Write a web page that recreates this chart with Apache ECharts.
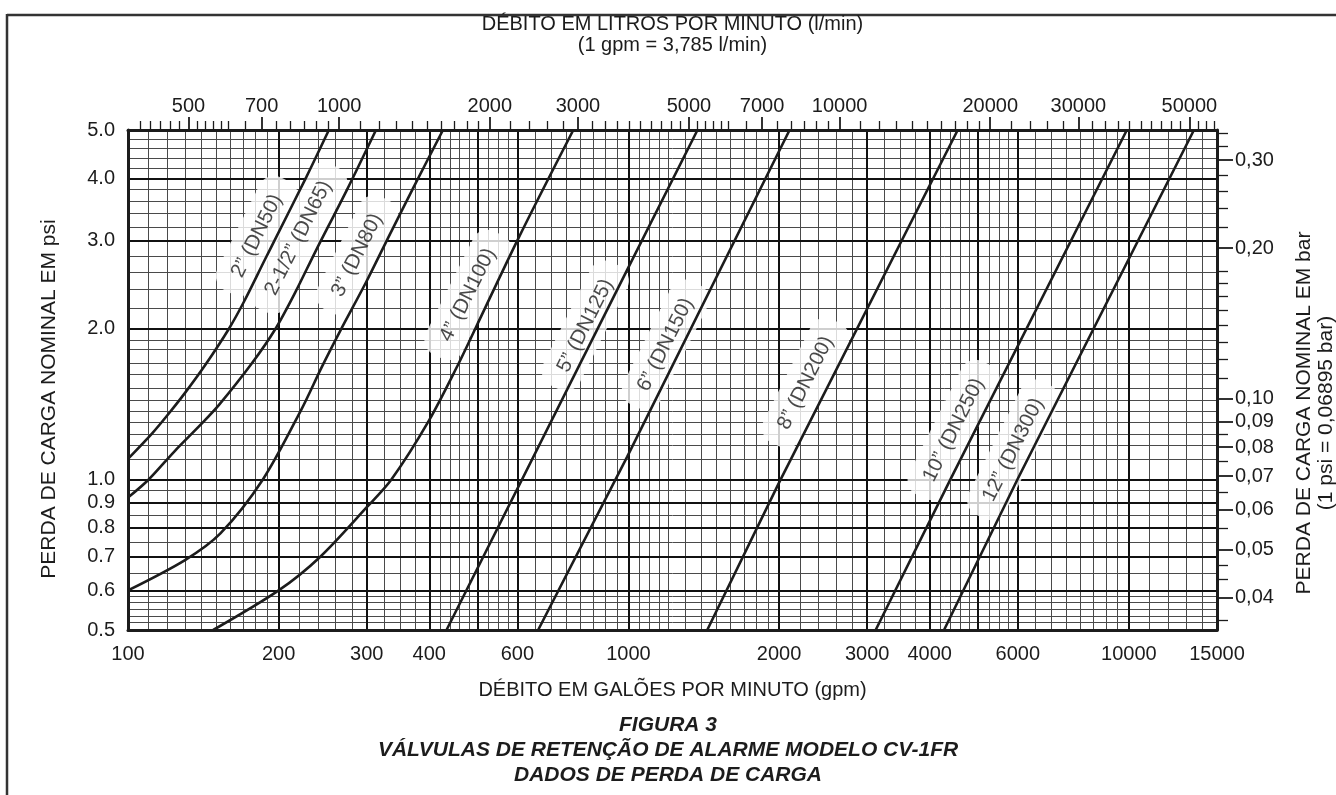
<!DOCTYPE html>
<html>
<head>
<meta charset="utf-8">
<script src="https://cdn.jsdelivr.net/npm/echarts@6/dist/echarts.min.js"></script>
<style>
html,body{margin:0;padding:0;background:#fff;}
#chart{width:1336px;height:795px;}
</style>
</head>
<body>
<div id="chart"></div>
<script>
// ---------------- data ----------------
const gpmTickLabels = [100, 200, 300, 400, 600, 1000, 2000, 3000, 4000, 6000, 10000, 15000];
const psiTickLabels = [0.5, 0.6, 0.7, 0.8, 0.9, 1.0, 2.0, 3.0, 4.0, 5.0];
const barTickLabels = [0.04, 0.05, 0.06, 0.07, 0.08, 0.09, 0.10, 0.20, 0.30];
const barMinorTicks = [0.036, 0.0435, 0.0465, 0.055, 0.065, 0.075, 0.085, 0.11, 0.12, 0.13, 0.14, 0.15, 0.16, 0.17, 0.18, 0.22, 0.24, 0.26, 0.28, 0.32, 0.34];
const lpmTickLabels = [500, 700, 1000, 2000, 3000, 5000, 7000, 10000, 20000, 30000, 50000];
const lpmMinorTicks = [400, 420, 440, 460, 480, 520, 540, 560, 580, 600, 650, 750, 800, 850, 900, 950,
  1100, 1200, 1300, 1400, 1500, 1600, 1700, 1800, 1900, 2200, 2400, 2600, 2800, 3200, 3400, 3600, 3800, 4000,
  4200, 4400, 4600, 4800, 5200, 5400, 5600, 5800, 6000, 6500, 7500, 8000, 8500, 9000, 9500,
  11000, 12000, 13000, 14000, 15000, 16000, 17000, 18000, 19000, 22000, 24000, 26000, 28000,
  32000, 34000, 36000, 38000, 40000, 42000, 44000, 46000, 48000, 52000, 54000, 56000];
const gpmMajorGrid = [200, 300, 400, 500, 600, 1000, 2000, 3000, 4000, 5000, 6000, 10000];
const gpmMinorGrid = [110, 120, 130, 140, 150, 160, 170, 180, 190, 220, 240, 260, 280, 325, 350, 375,
  420, 440, 460, 480, 525, 550, 575, 650, 700, 750, 800, 850, 900, 950,
  1050, 1100, 1150, 1200, 1300, 1400, 1500, 1600, 1700, 1800, 1900, 2200, 2400, 2600, 2800,
  3250, 3500, 3750, 4200, 4400, 4600, 4800, 5250, 5500, 5750,
  6500, 7000, 7500, 8000, 8500, 9000, 9500, 11000, 12000, 13000, 14000];
const psiMajorGrid = [0.6, 0.7, 0.8, 0.9, 1.0, 2.0, 3.0, 4.0];
const psiMinorGrid = [0.517, 0.533, 0.55, 0.567, 0.583, 0.65, 0.75, 0.85, 0.95,
  1.1, 1.17, 1.23, 1.3, 1.37, 1.44, 1.52, 1.62, 1.71, 1.82, 1.9,
  2.2, 2.4, 2.6, 2.8, 3.2, 3.4, 3.6, 3.8, 4.2, 4.4, 4.6, 4.8];

const GPM_TO_LPM = 3.785;
const PSI_TO_BAR = 0.06895;
const gpmMin = 100, gpmMax = 15000;
const psiMin = 0.5, psiMax = 5.0;

// [gpm, psi]
const curve2in   = [[100, 1.10], [112, 1.24], [121, 1.36], [130, 1.49], [143, 1.70], [159, 2.0], [171, 2.28], [188, 2.76], [198, 3.06], [227, 4.02], [252, 5.0]];
const curve25in  = [[100, 0.92], [110, 1.00], [124, 1.14], [140, 1.29], [152, 1.41], [177, 1.71], [197, 2.0], [216, 2.37], [237, 2.86], [274, 3.8], [313, 5.0]];
const curve3in   = [[100, 0.60], [130, 0.69], [153, 0.78], [186, 1.0], [222, 1.38], [244, 1.68], [266, 1.99], [299, 2.48], [334, 3.1], [372, 3.84], [426, 5.0]];
const curve4in   = [[148, 0.5], [200, 0.60], [242, 0.70], [300, 0.88], [336, 1.0], [399, 1.31], [457, 1.70], [494, 2.0], [604, 3.05], [776, 5.0]];
const curve5in   = [[433, 0.5], [993, 2.62], [1374, 5.0]];
const curve6in   = [[660, 0.5], [994, 1.11], [2099, 5.0]];
const curve8in   = [[1437, 0.5], [2009, 0.995], [4550, 5.0]];
const curve10in  = [[3119, 0.5], [4420, 1.01], [9908, 5.0]];
const curve12in  = [[4272, 0.5], [5988, 1.0], [13490, 5.0]];

const curveNames = ['2” (DN50)', '2-1/2” (DN65)', '3” (DN80)', '4” (DN100)', '5” (DN125)', '6” (DN150)', '8” (DN200)', '10” (DN250)', '12” (DN300)'];
const curveData = [curve2in, curve25in, curve3in, curve4in, curve5in, curve6in, curve8in, curve10in, curve12in];
// label anchor points (gpm, psi) where each size label sits
const labelAnchors = [[181, 3.07], [219, 3.04], [287, 2.81], [478, 2.34], [820, 2.03], [1186, 1.86], [2260, 1.56], [4467, 1.256], [5875, 1.146]];

const topTitle = 'DÉBITO EM LITROS POR MINUTO (l/min)\n(1 gpm = 3,785 l/min)';
const bottomTitle = 'DÉBITO EM GALÕES POR MINUTO (gpm)';
const leftTitle = 'PERDA DE CARGA NOMINAL EM psi';
const rightTitle = 'PERDA DE CARGA NOMINAL EM bar\n(1 psi = 0,06895 bar)';
const caption = 'FIGURA 3\nVÁLVULAS DE RETENÇÃO DE ALARME MODELO CV-1FR\nDADOS DE PERDA DE CARGA';

// ---------------- chart ----------------
const FONT = 'Liberation Sans';
const INK = '#1c1c1c';
const chart = echarts.init(document.getElementById('chart'), null, {renderer: 'canvas'});

const labelStyle = {fontSize: 20, color: INK, fontFamily: FONT};
const nameStyle = {fontSize: 20, color: INK, fontFamily: FONT, lineHeight: 21};
const sideNameStyle = {fontSize: 21, color: INK, fontFamily: FONT, lineHeight: 22};
const frameLine = {color: INK, width: 3};

const series = curveData.map((d, i) => ({
  type: 'line', name: curveNames[i], data: d,
  xAxisIndex: 0, yAxisIndex: 0,
  showSymbol: false, symbol: 'none',
  smooth: d.length > 3 ? 0.3 : false,
  lineStyle: {color: INK, width: 2.6},
  z: 5, silent: true, animation: false
}));
series.push({
  type: 'scatter', name: 'labels', xAxisIndex: 0, yAxisIndex: 0,
  symbolSize: 0, z: 4, silent: true, animation: false,
  data: labelAnchors.map((p, i) => ({name: curveNames[i], value: p})),
  label: {
    show: true, position: 'inside', formatter: '{b}', rotate: 63.4,
    fontSize: 20.5, color: INK, fontFamily: FONT,
    backgroundColor: '#fff', padding: [10, 18], borderRadius: 16
  }
});

const option = {
  animation: false,
  backgroundColor: '#fff',
  title: {
    text: caption, left: 'center', top: 708,
    textStyle: {fontSize: 21, fontWeight: 'bold', fontStyle: 'italic', color: INK, fontFamily: FONT, lineHeight: 25}
  },
  graphic: [
    {type: 'line', shape: {x1: 7, y1: 15, x2: 1336, y2: 15}, style: {stroke: '#333', lineWidth: 2.5}},
    {type: 'line', shape: {x1: 7, y1: 14, x2: 7, y2: 795}, style: {stroke: '#333', lineWidth: 2.5}}
  ],
  grid: {left: 128, top: 130, width: 1089, height: 500, containLabel: false, outerBoundsMode: 'none'},
  xAxis: [
    {
      type: 'log', logBase: 10, min: gpmMin, max: gpmMax, position: 'bottom', z: 2,
      axisLine: {show: true, onZero: false, lineStyle: frameLine},
      axisTick: {show: false, customValues: gpmMajorGrid},
      axisLabel: {customValues: gpmTickLabels, formatter: v => String(Math.round(v)), margin: 14, ...labelStyle},
      splitLine: {show: true, lineStyle: {color: '#111', width: 2}},
      name: bottomTitle, nameLocation: 'middle', nameGap: 50, nameTextStyle: nameStyle
    },
    {
      type: 'log', logBase: 10, min: gpmMin * GPM_TO_LPM, max: gpmMax * GPM_TO_LPM, position: 'top', z: 2,
      axisLine: {show: true, onZero: false, lineStyle: frameLine},
      axisTick: {show: true, customValues: lpmMinorTicks, length: 9, lineStyle: {color: INK, width: 1.3}},
      axisLabel: {customValues: lpmTickLabels, formatter: v => String(Math.round(v)), margin: 14, ...labelStyle},
      splitLine: {show: false},
      name: topTitle, nameLocation: 'middle', nameGap: 74, nameTextStyle: nameStyle
    },
    {
      type: 'log', logBase: 10, min: gpmMin, max: gpmMax, position: 'bottom', z: 0,
      axisLine: {show: false}, axisTick: {show: false, customValues: gpmMinorGrid},
      axisLabel: {show: false},
      splitLine: {show: true, lineStyle: {color: '#4a4a4a', width: 1}}
    },
    {
      type: 'log', logBase: 10, min: gpmMin * GPM_TO_LPM, max: gpmMax * GPM_TO_LPM, position: 'top', z: 2,
      axisLine: {show: false},
      axisTick: {show: true, customValues: lpmTickLabels, length: 13, lineStyle: {color: INK, width: 1.8}},
      axisLabel: {show: false}, splitLine: {show: false}
    }
  ],
  yAxis: [
    {
      type: 'log', logBase: 10, min: psiMin, max: psiMax, position: 'left', z: 2,
      axisLine: {show: true, onZero: false, lineStyle: frameLine},
      axisTick: {show: false, customValues: psiMajorGrid},
      axisLabel: {customValues: psiTickLabels, formatter: v => v.toFixed(1), margin: 13, ...labelStyle},
      splitLine: {show: true, lineStyle: {color: '#111', width: 2}},
      name: leftTitle, nameLocation: 'middle', nameGap: 68, nameRotate: 90,
      nameTextStyle: {...sideNameStyle, padding: [0, 38, 0, 0]}
    },
    {
      type: 'log', logBase: 10, min: psiMin, max: psiMax, position: 'left', z: 0,
      axisLine: {show: false}, axisTick: {show: false, customValues: psiMinorGrid},
      axisLabel: {show: false},
      splitLine: {show: true, lineStyle: {color: '#4a4a4a', width: 1}}
    },
    {
      type: 'log', logBase: 10, min: psiMin * PSI_TO_BAR, max: psiMax * PSI_TO_BAR, position: 'right', z: 2,
      axisLine: {show: true, onZero: false, lineStyle: frameLine},
      axisTick: {show: true, customValues: barMinorTicks, length: 11, lineStyle: {color: INK, width: 1.3}},
      axisLabel: {customValues: barTickLabels, formatter: v => v.toFixed(2).replace('.', ','), margin: 18, ...labelStyle},
      splitLine: {show: false},
      name: rightTitle, nameLocation: 'middle', nameGap: 76, nameRotate: 90,
      nameTextStyle: {...sideNameStyle, padding: [0, 66, 0, 0]}
    },
    {
      type: 'log', logBase: 10, min: psiMin * PSI_TO_BAR, max: psiMax * PSI_TO_BAR, position: 'right', z: 2,
      axisLine: {show: false},
      axisTick: {show: true, customValues: barTickLabels, length: 16, lineStyle: {color: INK, width: 1.8}},
      axisLabel: {show: false}, splitLine: {show: false}
    }
  ],
  series: series
};
chart.setOption(option);
</script>
</body>
</html>
